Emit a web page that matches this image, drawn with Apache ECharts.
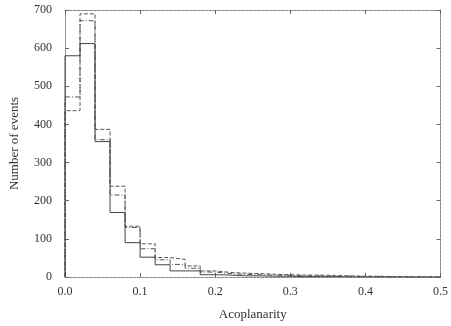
<!DOCTYPE html>
<html>
<head>
<meta charset="utf-8">
<script src="https://cdn.jsdelivr.net/npm/echarts@6/dist/echarts.min.js"></script>
<style>
  html, body { margin: 0; padding: 0; background: #ffffff; }
  #chart { width: 451px; height: 326px; }
</style>
</head>
<body>
<div id="chart"></div>
<script>
// bins of 0.02 from 0 to 0.5
var binWidth = 0.02
var xTicks = ['0.0', '0.1', '0.2', '0.3', '0.4', '0.5']
var yTicks = [0, 100, 200, 300, 400, 500, 600, 700]

// three histograms (counts per bin)
var wideCounts   = [436, 690, 387, 238, 133, 87, 51, 46, 29, 16, 12, 10, 9, 7, 6, 5, 5, 4, 3, 2, 2, 1, 1, 0, 0]
var middleCounts = [472, 672, 360, 215, 130, 74, 45, 33, 23, 13, 9, 7, 6, 5, 4, 3, 3, 2, 2, 1, 1, 0, 0, 0, 0]
var narrowCounts = [580, 612, 355, 169, 90, 52, 32, 16, 16, 6, 5, 3, 3, 2, 2, 1, 1, 1, 0, 0, 0, 0, 0, 0, 0]

function stepData(counts) {
  var pts = [[0, 0]]
  for (var i = 0; i < counts.length; i++) {
    pts.push([+(i * binWidth).toFixed(4), counts[i]])
  }
  pts.push([+(counts.length * binWidth).toFixed(4), counts[counts.length - 1]])
  return pts
}

var serif = 'Liberation Serif'
var frameColor = '#8a8a8a'
var frameLine = { show: true, onZero: false, lineStyle: { color: frameColor, type: [3, 1], width: 1 } }
var innerTick = { show: true, inside: true, length: 4, lineStyle: { color: '#666' } }

var chart = echarts.init(document.getElementById('chart'))
chart.setOption({
  animation: false,
  backgroundColor: '#ffffff',
  grid: { left: 60, right: 8, top: 10, bottom: 43, show: false },
  xAxis: [
    {
      type: 'value', min: 0, max: 0.5, interval: 0.1, position: 'bottom',
      name: 'Acoplanarity', nameLocation: 'middle', nameGap: 31,
      nameTextStyle: { fontFamily: serif, fontSize: 13, color: '#333' },
      axisLine: frameLine,
      axisTick: innerTick,
      axisLabel: {
        fontFamily: serif, fontSize: 12, color: '#333', margin: 9,
        formatter: function (v) { return xTicks[Math.round(v * 10)] }
      },
      splitLine: { show: false }
    },
    {
      type: 'value', min: 0, max: 0.5, interval: 0.1, position: 'top',
      axisLine: frameLine,
      axisTick: innerTick,
      axisLabel: { show: false },
      splitLine: { show: false }
    }
  ],
  yAxis: [
    {
      type: 'value', min: 0, max: 700, interval: 100, position: 'left',
      name: 'Number of events', nameLocation: 'middle', nameGap: 44, nameRotate: 90,
      nameTextStyle: { fontFamily: serif, fontSize: 13, color: '#333' },
      axisLine: frameLine,
      axisTick: innerTick,
      axisLabel: {
        fontFamily: serif, fontSize: 12, color: '#333', margin: 13,
        formatter: function (v) { return yTicks.indexOf(v) >= 0 ? String(v) : '' }
      },
      splitLine: { show: false }
    },
    {
      type: 'value', min: 0, max: 700, interval: 100, position: 'right',
      axisLine: frameLine,
      axisTick: innerTick,
      axisLabel: { show: false },
      splitLine: { show: false }
    }
  ],
  series: [
    {
      name: 'wide', type: 'line', step: 'end', showSymbol: false,
      data: stepData(wideCounts),
      lineStyle: { color: '#555', width: 1, type: [4, 2] }
    },
    {
      name: 'middle', type: 'line', step: 'end', showSymbol: false,
      data: stepData(middleCounts),
      lineStyle: { color: '#555', width: 1, type: [5, 2, 1, 2] }
    },
    {
      name: 'narrow', type: 'line', step: 'end', showSymbol: false,
      data: stepData(narrowCounts),
      lineStyle: { color: '#444', width: 1, type: 'solid' }
    }
  ]
})
</script>
</body>
</html>
